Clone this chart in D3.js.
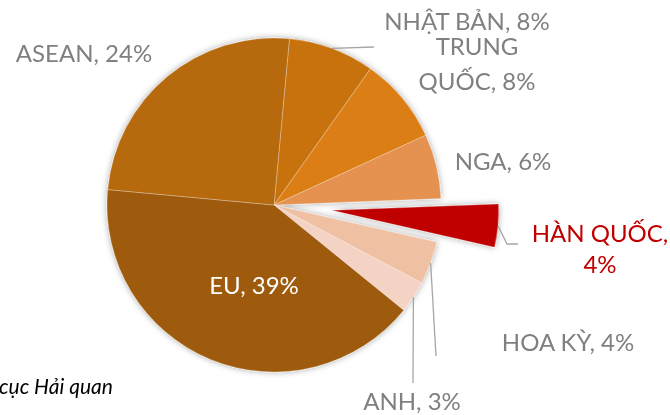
<!DOCTYPE html>
<html>
<head>
<meta charset="utf-8">
<script src="https://cdn.jsdelivr.net/npm/d3@7"></script>
<style>
  html, body { margin: 0; padding: 0; background: #fff; }
  svg { display: block; }
</style>
</head>
<body>
<svg id="chart" width="670" height="415"></svg>
<script>
// ---- data ----
const categories = ["NHẬT BẢN", "TRUNG QUỐC", "NGA", "HÀN QUỐC", "HOA KỲ", "ANH", "EU", "ASEAN"];
const values = [8, 8, 6, 4, 4, 3, 39, 24];
const sliceColors = ["#C7720F", "#DC7E13", "#E59150", "#C00000", "#F0C0A3", "#F4D3C5", "#9E5A0B", "#B6690F"];
const labelColors = ["#808080", "#808080", "#808080", "#C00000", "#808080", "#808080", "#FFFFFF", "#808080"];
// how each label wraps (text of the first line; "" = no wrap)
const labelWrap = ["", "TRUNG", "", "HÀN QUỐC,", "", "", "", ""];
const sourceText = "cục Hải quan";

// ---- layout ----
const W = 670, H = 415;
const cx = 274, cy = 205, R = 167;
const startDeg = 5.3;
const explodeIndex = 3, explodeDist = 58;
const fontFamily = "Lato, 'Open Sans', sans-serif";
const fontSize = 24;
// label anchor (center x, first baseline y)
const labelPos = [
  [467, 30], [477, 55], [503, 170], [600, 242], [568, 351], [412, 410], [254, 294], [84, 62]
];
const lineGap = [0, 35, 0, 31, 0, 0, 0, 0];
// leader line end points (null = none)
const leaderEnds = [
  [[374, 47]], null, null, [[507, 244], [518, 244]], [[436, 356]], [[413, 383]], null, null
];

const svg = d3.select("#chart");
const defs = svg.append("defs");
const f = defs.append("filter").attr("id", "shadow")
  .attr("x", "-20%").attr("y", "-20%").attr("width", "140%").attr("height", "140%");
f.append("feDropShadow").attr("dx", 0).attr("dy", 0).attr("stdDeviation", 3)
  .attr("flood-color", "#000").attr("flood-opacity", 0.35);

const start = startDeg * Math.PI / 180;
const pie = d3.pie().sort(null).value(d => d).startAngle(start).endAngle(start + 2 * Math.PI);
const arcs = pie(values);
const arc = d3.arc().innerRadius(0).outerRadius(R);

function offset(d, i) {
  if (i !== explodeIndex) return [0, 0];
  const m = (d.startAngle + d.endAngle) / 2;
  return [explodeDist * Math.sin(m), -explodeDist * Math.cos(m)];
}

const g = svg.append("g").attr("transform", `translate(${cx},${cy})`);
g.append("g").attr("filter", "url(#shadow)")
  .selectAll("path").data(arcs).join("path")
  .attr("transform", (d, i) => { const o = offset(d, i); return `translate(${o[0]},${o[1]})`; })
  .attr("d", arc)
  .attr("fill", (d, i) => sliceColors[i])
  .attr("stroke", "#fff").attr("stroke-opacity", 0.35).attr("stroke-width", 0.8);

// leader lines: start at the outer edge at the slice's middle angle
arcs.forEach((d, i) => {
  if (!leaderEnds[i]) return;
  const m = (d.startAngle + d.endAngle) / 2;
  const o = offset(d, i);
  const p0 = [cx + o[0] + R * Math.sin(m), cy + o[1] - R * Math.cos(m)];
  const pts = [p0].concat(leaderEnds[i]);
  svg.append("path")
    .attr("d", d3.line()(pts))
    .attr("fill", "none").attr("stroke", "#A6A6A6").attr("stroke-width", 1.3);
});

// labels
arcs.forEach((d, i) => {
  const full = `${categories[i]}, ${values[i]}%`;
  let lines = [full];
  if (labelWrap[i]) {
    const first = labelWrap[i];
    lines = [first, full.slice(first.length).replace(/^,/, "").trim()];
    if (first.endsWith(",")) lines = [first, `${values[i]}%`];
  }
  const t = svg.append("text")
    .attr("text-anchor", "middle")
    .attr("font-family", fontFamily)
    .attr("font-size", fontSize)
    .attr("fill", labelColors[i]);
  lines.forEach((ln, k) => {
    t.append("tspan").attr("x", labelPos[i][0]).attr("y", labelPos[i][1] + k * lineGap[i]).text(ln);
  });
});

// source note
svg.append("text")
  .attr("x", -1).attr("y", 394)
  .attr("font-family", fontFamily)
  .attr("font-style", "italic")
  .attr("font-size", 21)
  .attr("fill", "#000")
  .text(sourceText);
</script>
</body>
</html>
